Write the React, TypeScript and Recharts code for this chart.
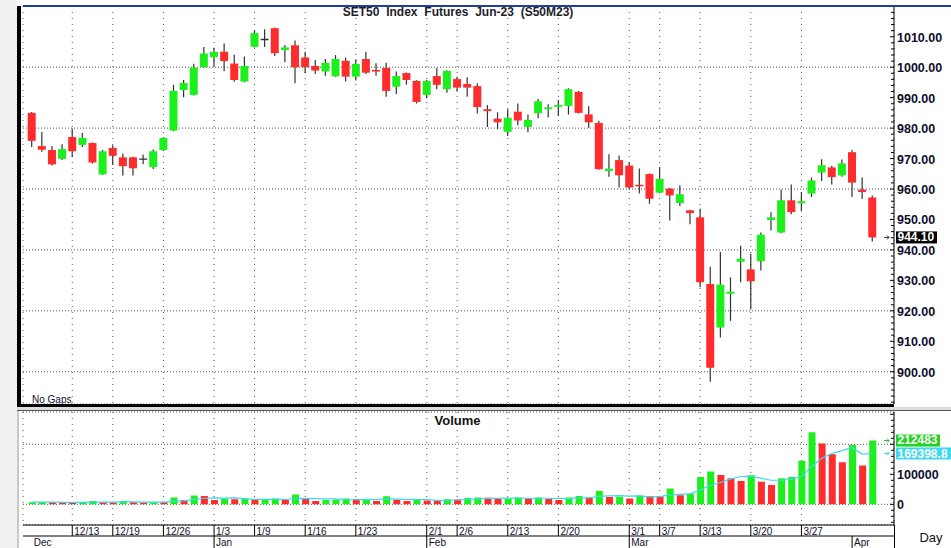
import React from "react";
import {
  Bar,
  CartesianGrid,
  Cell,
  ComposedChart,
  Line,
  ReferenceLine,
  XAxis,
  YAxis,
} from "recharts";

const dates = [
  "12/6", "12/7", "12/8", "12/9", "12/13", "12/14", "12/15", "12/16", "12/19", "12/20",
  "12/21", "12/22", "12/23", "12/26", "12/27", "12/28", "12/29", "12/30",
  "1/3", "1/4", "1/5", "1/6", "1/9", "1/10", "1/11", "1/12", "1/13", "1/16", "1/17",
  "1/18", "1/19", "1/20", "1/23", "1/24", "1/25", "1/26", "1/27", "1/30", "1/31",
  "2/1", "2/2", "2/3", "2/6", "2/7", "2/8", "2/9", "2/10", "2/13", "2/14", "2/15",
  "2/16", "2/17", "2/20", "2/21", "2/22", "2/23", "2/24", "2/27", "2/28",
  "3/1", "3/2", "3/3", "3/7", "3/8", "3/9", "3/10", "3/13", "3/14", "3/15", "3/16",
  "3/17", "3/20", "3/21", "3/22", "3/23", "3/24", "3/27", "3/28", "3/29", "3/30", "3/31",
  "4/3", "4/4", "4/5",
];

const opens = [
  985.0, 974.1, 972.8, 969.9, 977.1, 974.5, 975.1, 964.8, 973.5, 970.4,
  970.4, 969.8, 967.2, 972.8, 979.2, 992.5, 990.9, 1000.0, 1003.3, 1005.1,
  1001.2, 995.3, 1006.7, 1009.1, 1012.8, 1005.6, 1007.2, 1003.2, 1000.4, 998.6,
  997.0, 1002.1, 996.9, 1002.7, 999.1, 999.8, 993.6, 998.1, 995.5, 990.9,
  997.1, 992.8, 996.1, 994.5, 993.8, 986.2, 983.1, 978.8, 985.4, 980.4,
  984.9, 986.2, 987.0, 987.3, 991.9, 984.5, 981.7, 965.9, 969.5, 967.7,
  961.4, 964.9, 958.8, 960.1, 955.4, 953.0, 950.7, 928.8, 914.5, 925.6,
  936.1, 933.6, 936.3, 949.8, 945.7, 956.3, 955.3, 958.5, 965.4, 967.1,
  964.5, 972.1, 959.8, 957.2,
];

const highs = [
  985.3, 978.7, 974.1, 974.7, 979.9, 978.5, 975.3, 972.8, 974.4, 971.7,
  970.6, 971.3, 973.0, 977.0, 994.2, 995.8, 1001.1, 1006.6, 1006.4, 1007.8,
  1004.1, 1003.5, 1012.1, 1012.5, 1013.0, 1007.3, 1008.8, 1005.1, 1002.4, 1002.7,
  1004.0, 1003.2, 1002.6, 1005.1, 1001.3, 1001.5, 998.6, 998.3, 995.7, 995.8,
  999.7, 999.0, 996.9, 996.7, 994.7, 987.6, 985.2, 986.2, 988.1, 984.5,
  989.6, 987.8, 989.2, 993.1, 992.2, 987.2, 982.4, 971.4, 971.0, 968.9,
  966.7, 965.1, 967.2, 960.3, 961.2, 953.2, 953.5, 934.5, 939.3, 931.0,
  941.4, 938.7, 945.7, 952.4, 959.8, 961.5, 959.0, 963.8, 969.8, 967.6,
  969.7, 972.8, 963.8, 957.9,
];

const lows = [
  973.8, 972.2, 967.7, 969.5, 970.5, 973.8, 968.4, 964.6, 967.9, 964.4,
  964.4, 968.1, 966.6, 972.6, 979.0, 990.1, 990.7, 999.8, 1000.2, 998.7,
  995.2, 995.1, 1006.5, 1006.6, 1003.7, 1001.6, 994.7, 998.0, 997.8, 997.2,
  996.9, 995.3, 995.6, 997.8, 997.2, 990.3, 991.2, 994.2, 988.1, 989.8,
  992.8, 991.6, 992.0, 990.3, 984.8, 980.4, 979.6, 977.4, 980.9, 978.6,
  983.2, 983.5, 984.0, 984.5, 984.8, 980.1, 966.3, 964.0, 960.5, 959.8,
  958.5, 955.2, 958.6, 949.7, 954.4, 948.4, 927.7, 896.7, 911.2, 916.7,
  929.4, 920.4, 933.2, 946.4, 945.5, 951.7, 952.7, 957.4, 962.6, 961.5,
  964.0, 957.4, 956.7, 942.8,
];

const closes = [
  975.8, 972.9, 968.1, 973.1, 972.4, 976.8, 968.7, 972.4, 970.9, 967.5,
  966.8, 969.8, 972.4, 976.8, 992.2, 994.8, 999.9, 1004.5, 1005.0, 1002.0,
  995.8, 1000.4, 1011.2, 1009.1, 1004.6, 1006.5, 1000.0, 1000.0, 998.9, 1001.4,
  1002.7, 996.9, 1001.1, 998.2, 998.6, 992.2, 997.1, 995.8, 988.6, 995.5,
  994.2, 998.8, 993.3, 993.3, 986.9, 985.6, 981.9, 983.4, 982.5, 982.7,
  988.8, 986.8, 987.6, 992.8, 985.0, 981.9, 966.5, 966.7, 964.5, 960.5,
  960.9, 956.8, 963.3, 957.9, 958.3, 952.1, 929.4, 901.3, 928.6, 926.3,
  937.1, 929.7, 945.0, 950.7, 956.3, 952.4, 956.0, 962.8, 967.8, 963.9,
  968.4, 962.1, 959.0, 944.1,
];

const volumes = [
  7000, 7500, 6500, 6000, 5500, 6500, 11000, 6500, 6000, 11000,
  6500, 6000, 7000, 6500, 23000, 14000, 29000, 28000, 14000, 18000,
  17000, 18000, 14000, 15000, 19000, 14000, 33000, 18000, 11000, 14000,
  15000, 19000, 17000, 17500, 11000, 27000, 15000, 11000, 14000, 13000,
  12000, 17000, 16000, 21000, 23000, 22000, 18000, 19000, 23000, 18000,
  23000, 18000, 14000, 23000, 28000, 23000, 44000, 24000, 25000, 19000,
  29000, 28000, 27000, 53000, 30000, 35000, 91000, 109000, 98000, 87000,
  78000, 97000, 75000, 64000, 87000, 91000, 145000, 240000, 203000, 167000,
  140000, 198000, 129511, 212483,
];

const gridDates = [
  "12/13", "12/19", "12/26", "1/3", "1/9", "1/16", "1/23", "2/1",
  "2/6", "2/13", "2/20", "3/1", "3/7", "3/13", "3/20", "3/27",
];
const monthTicks = ["12/6", "1/3", "2/1", "3/1", "4/3"];
const monthNames = ["Dec", "Jan", "Feb", "Mar", "Apr"];

const priceGrid = [900, 920, 940, 960, 980, 1000];
const priceLabels = [900, 910, 920, 930, 940, 950, 960, 970, 980, 990, 1000, 1010];
const volumeGrid = [0, 200000];
const volumeLabels = [0, 100000];

// minor tick marks on the axis lines
const priceMinor = Array.from({ length: 66 }, (_, i) => 890 + i * 2);
const volumeMinor = Array.from({ length: 19 }, (_, i) => -60000 + i * 20000);

const UP = "#1cf01c";
const DOWN = "#fe2c2c";
const WICK = "#333333";
const CYAN = "#3cd8f0";
const INK = "#0e0e2c";
const FONT = "'Liberation Sans', Arial, sans-serif";

const PAD = { left: 3.7, right: 16.6 };
const PRICE_DOMAIN = [889.4, 1020.1];
const VOL_DOMAIN = [-69000, 307700];

const candles = dates.map((date, i) => ({
  date,
  open: opens[i],
  high: highs[i],
  low: lows[i],
  close: closes[i],
  range: [lows[i], highs[i]],
}));

const volRows = dates.map((date, i) => {
  const win = volumes.slice(Math.max(0, i - 4), i + 1);
  return {
    date,
    vol: volumes[i],
    ma: win.reduce((a, b) => a + b, 0) / win.length,
    up: i === 0 || volumes[i] >= volumes[i - 1],
  };
});

const lastMa = volRows[volRows.length - 1].ma;

function Candle(props: any) {
  const { x, y, width, height, payload } = props;
  if (x == null || !payload) return null;
  const top = Math.min(y, y + height);
  const h = Math.abs(height);
  const { open, close, high, low } = payload;
  const py = (v: number) => top + ((high - v) / (high - low || 1)) * h;
  const cx = x + width / 2;
  const yo = py(open);
  const yc = py(close);
  const wick = (
    <line x1={cx} x2={cx} y1={top} y2={top + h} stroke={WICK} strokeWidth={1.2} />
  );
  if (open === close) {
    return (
      <g>
        {wick}
        <line x1={x} x2={x + width} y1={yo} y2={yo} stroke={WICK} strokeWidth={1.3} />
      </g>
    );
  }
  const bt = Math.min(yo, yc);
  const bh = Math.max(Math.abs(yo - yc), 1.6);
  return (
    <g>
      {wick}
      <rect x={x} y={bt} width={width} height={bh} fill={close > open ? UP : DOWN} />
    </g>
  );
}

function LeftTick(props: any) {
  const { x, y, payload } = props;
  const len = payload.value % 10 === 0 ? 4 : 3;
  return <line x1={x} x2={x + len} y1={y} y2={y} stroke="#000" />;
}

function PriceRightTick(props: any) {
  const { x, y, payload } = props;
  const v = payload.value;
  const lab = priceLabels.includes(v);
  return (
    <g>
      <line x1={x - (lab ? 4 : 3)} x2={x} y1={y} y2={y} stroke="#000" />
      {lab && (
        <text x={x + 3} y={y} dy={5} fill={INK} fontSize={12.5} fontWeight="bold" fontFamily={FONT}>
          {v.toFixed(2)}
        </text>
      )}
    </g>
  );
}

function VolLeftTick(props: any) {
  const { x, y, payload } = props;
  const len = payload.value % 100000 === 0 ? 4 : 3;
  return <line x1={x} x2={x + len} y1={y} y2={y} stroke="#000" />;
}

function VolRightTick(props: any) {
  const { x, y, payload } = props;
  const v = payload.value;
  const lab = volumeLabels.includes(v);
  return (
    <g>
      <line x1={x - (v % 100000 === 0 ? 4 : 3)} x2={x} y1={y} y2={y} stroke="#000" />
      {lab && (
        <text x={x + 3} y={y} dy={4.5} fill={INK} fontSize={12.5} fontWeight="bold" fontFamily={FONT}>
          {String(v)}
        </text>
      )}
    </g>
  );
}

function DayTick(props: any) {
  const { x, y, payload } = props;
  return (
    <g>
      <line x1={x} x2={x} y1={y} y2={y + 11} stroke="#000" />
      <text x={x + 2} y={y + 10} fill={INK} fontSize={10} fontFamily={FONT}>
        {payload.value}
      </text>
    </g>
  );
}

function MonthTick(props: any) {
  const { x, y, payload } = props;
  const i = monthTicks.indexOf(payload.value);
  return (
    <g>
      {i > 0 && <line x1={x} x2={x} y1={y} y2={y + 12} stroke="#000" />}
      <text x={x + 2} y={y + 10} fill={INK} fontSize={10} fontFamily={FONT}>
        {monthNames[i]}
      </text>
    </g>
  );
}

function Tag(props: any) {
  const { viewBox, text, bg, w, arrow, dy } = props;
  if (!viewBox) return null;
  const x = viewBox.x + viewBox.width;
  const y = viewBox.y;
  return (
    <g>
      <path
        d={`M${x - 10},${y} h5 M${x - 7},${y - 2} l2,2 l-2,2`}
        stroke={arrow}
        fill="none"
        strokeWidth={1}
      />
      <rect x={x + 2} y={y - 6} width={w} height={12} fill={bg} />
      <text x={x + 3.5} y={y} dy={dy} fill="#fff" fontSize={12} fontWeight="bold" fontFamily={FONT}>
        {text}
      </text>
    </g>
  );
}

function PriceChart() {
  return (
    <ComposedChart
      width={951}
      height={406}
      data={candles}
      margin={{ top: 6, right: 0, bottom: 2, left: 0 }}
    >
      <XAxis dataKey="date" hide padding={PAD} ticks={gridDates} interval={0} />
      <YAxis yAxisId="g" hide domain={PRICE_DOMAIN} allowDataOverflow ticks={priceGrid} />
      <YAxis
        yAxisId="pl"
        orientation="left"
        width={23}
        domain={PRICE_DOMAIN}
        allowDataOverflow
        ticks={priceMinor}
        interval={0}
        tickSize={0}
        tickMargin={0}
        tickLine={false}
        axisLine={{ stroke: "#000", strokeWidth: 1.5 }}
        tick={<LeftTick />}
      />
      <YAxis
        yAxisId="p"
        orientation="right"
        width={57}
        domain={PRICE_DOMAIN}
        allowDataOverflow
        ticks={priceMinor}
        interval={0}
        tickSize={0}
        tickMargin={0}
        tickLine={false}
        axisLine={{ stroke: "#000" }}
        tick={<PriceRightTick />}
      />
      <CartesianGrid yAxisId="g" vertical={false} stroke="#555" strokeDasharray="1 2" />
      <CartesianGrid yAxisId="g" horizontal={false} stroke="#555" strokeDasharray="1 5" />
      <Bar
        yAxisId="p"
        dataKey="range"
        barSize={8}
        shape={<Candle />}
        isAnimationActive={false}
      />
      <ReferenceLine
        yAxisId="p"
        y={closes[closes.length - 1]}
        stroke="none"
        label={(p: any) => (
          <Tag {...p} text={closes[closes.length - 1].toFixed(2)} bg="#000" w={41} arrow="#333" dy={3.6} />
        )}
      />
    </ComposedChart>
  );
}

function VolumeChart() {
  return (
    <ComposedChart
      width={951}
      height={139}
      data={volRows}
      margin={{ top: 3, right: 0, bottom: 0, left: 0 }}
    >
      <XAxis
        dataKey="date"
        padding={PAD}
        ticks={gridDates}
        interval={0}
        height={11}
        tickSize={0}
        tickMargin={0}
        tickLine={false}
        axisLine={{ stroke: "#000" }}
        tick={<DayTick />}
      />
      <XAxis
        xAxisId="m"
        dataKey="date"
        padding={PAD}
        ticks={monthTicks}
        interval={0}
        height={12}
        tickSize={0}
        tickMargin={0}
        tickLine={false}
        axisLine={{ stroke: "#000" }}
        tick={<MonthTick />}
      />
      <YAxis yAxisId="g" hide domain={VOL_DOMAIN} allowDataOverflow ticks={volumeGrid} />
      <YAxis
        yAxisId="vl"
        orientation="left"
        width={23}
        domain={VOL_DOMAIN}
        allowDataOverflow
        ticks={volumeMinor}
        interval={0}
        tickSize={0}
        tickMargin={0}
        tickLine={false}
        axisLine={{ stroke: "#000", strokeWidth: 1.5 }}
        tick={<VolLeftTick />}
      />
      <YAxis
        yAxisId="v"
        orientation="right"
        width={57}
        domain={VOL_DOMAIN}
        allowDataOverflow
        ticks={volumeMinor}
        interval={0}
        tickSize={0}
        tickMargin={0}
        tickLine={false}
        axisLine={{ stroke: "#000" }}
        tick={<VolRightTick />}
      />
      <CartesianGrid yAxisId="g" vertical={false} stroke="#555" strokeDasharray="1 2" />
      <CartesianGrid yAxisId="g" horizontal={false} stroke="#555" strokeDasharray="1 5" />
      <Bar yAxisId="v" dataKey="vol" barSize={7} isAnimationActive={false}>
        {volRows.map((r, i) => (
          <Cell key={i} fill={r.up ? UP : DOWN} />
        ))}
      </Bar>
      <Line
        yAxisId="v"
        dataKey="ma"
        stroke={CYAN}
        strokeWidth={1.2}
        dot={false}
        isAnimationActive={false}
      />
      <ReferenceLine
        yAxisId="v"
        y={volumes[volumes.length - 1]}
        stroke="none"
        label={(p: any) => (
          <Tag {...p} text={String(volumes[volumes.length - 1])} bg="#22d322" w={44} arrow="#22c022" dy={3.2} />
        )}
      />
      <ReferenceLine
        yAxisId="v"
        y={lastMa}
        stroke="none"
        label={(p: any) => (
          <Tag {...p} text={lastMa.toFixed(1)} bg={CYAN} w={55} arrow={CYAN} dy={4.2} />
        )}
      />
    </ComposedChart>
  );
}

const box = (s: React.CSSProperties): React.CSSProperties => ({ position: "absolute", ...s });

export default function App() {
  return (
    <div style={box({ left: 0, top: 0, width: 951, height: 548, background: "#fff", overflow: "hidden" })}>
      <div style={box({ left: 0, top: 0, width: 17, height: 548, background: "#f1f1f1" })} />
      <div style={box({ left: 0, top: 0 })}>
        <PriceChart />
      </div>
      <div style={box({ left: 0, top: 409 })}>
        <VolumeChart />
      </div>
      {/* panel frames */}
      <div style={box({ left: 23, top: 5.3, width: 928, height: 1.4, background: "#1f3f98" })} />
      <div style={box({ left: 17, top: 6, width: 3.5, height: 400, background: "#000" })} />
      <div style={box({ left: 17, top: 404, width: 877, height: 2.5, background: "#000" })} />
      <div style={box({ left: 17, top: 406.5, width: 934, height: 3, background: "#dcdcdc" })} />
      <div style={box({ left: 17, top: 409.5, width: 934, height: 1.5, background: "#555" })} />
      <div style={box({ left: 17, top: 411, width: 1.5, height: 137, background: "#c8c8c8" })} />
      <div style={box({ left: 893.5, top: 525, width: 1, height: 23, background: "#000" })} />
      <svg width={951} height={548} style={box({ left: 0, top: 0, pointerEvents: "none" })}>
        <text
          x={458}
          y={16}
          textAnchor="middle"
          fontSize={12}
          fontWeight="bold"
          fontFamily={FONT}
          fill="#1e1e2a"
          wordSpacing={3.5}
        >
          SET50 Index Futures Jun-23 (S50M23)
        </text>
        <text x={32} y={403} fontSize={10} fontFamily={FONT} fill={INK}>
          No Gaps
        </text>
        <text x={457.5} y={425} textAnchor="middle" fontSize={13} fontWeight="bold" fontFamily={FONT} fill="#111">
          Volume
        </text>
        <text x={931} y={542} textAnchor="middle" fontSize={13} fontFamily={FONT} fill="#111">
          Day
        </text>
      </svg>
    </div>
  );
}
